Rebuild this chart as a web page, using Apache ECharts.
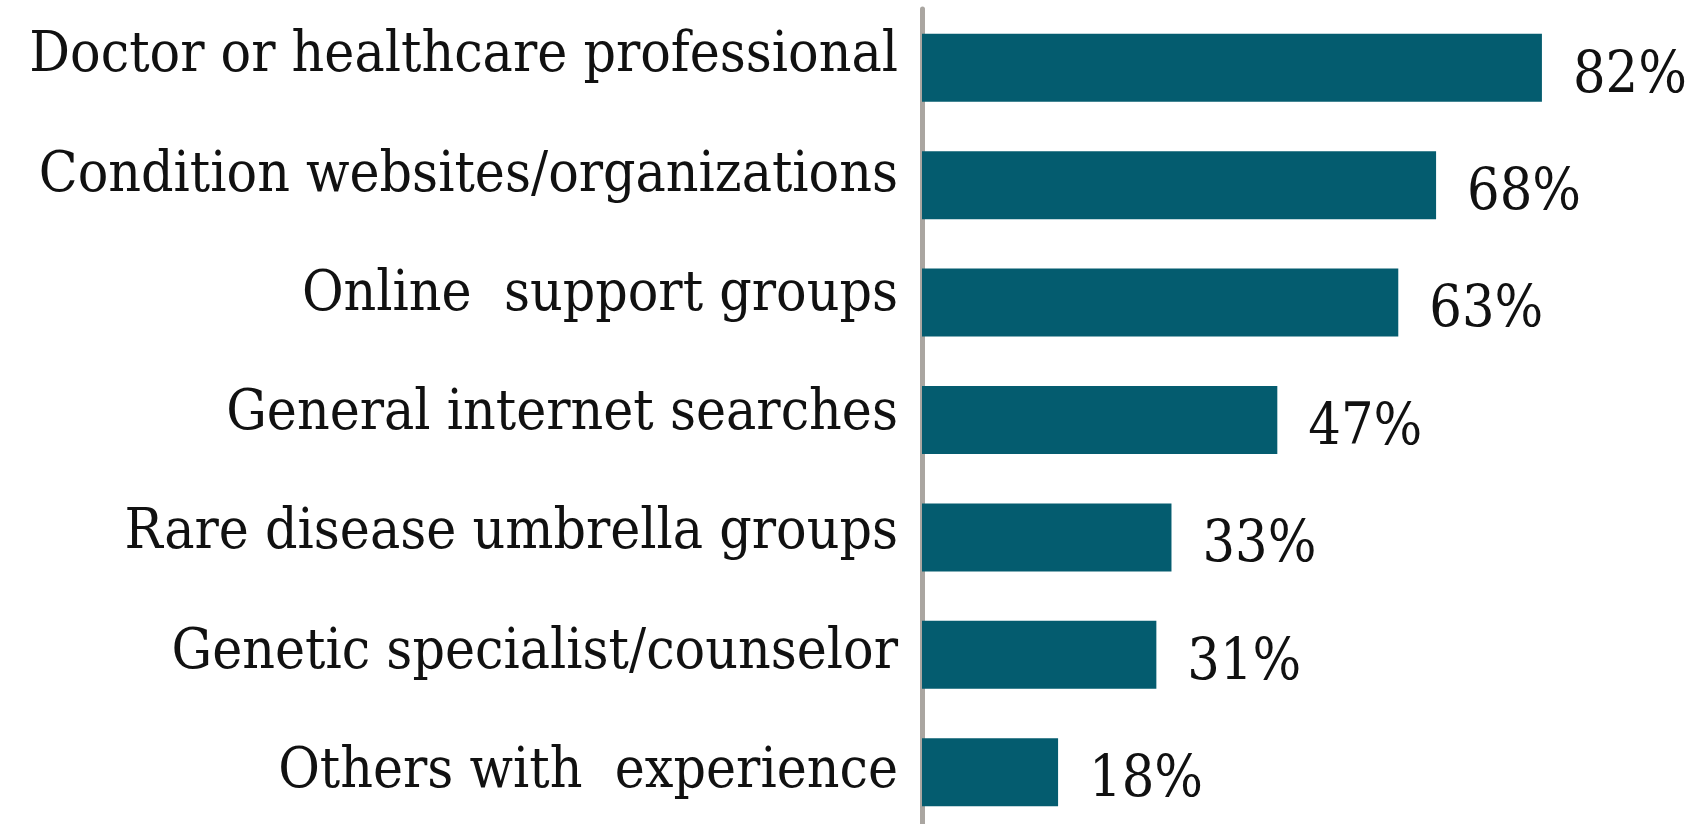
<!DOCTYPE html>
<html>
<head>
<meta charset="utf-8">
<script src="https://cdn.jsdelivr.net/npm/echarts@6/dist/echarts.min.js"></script>
<style>
  html, body { margin: 0; padding: 0; background: #fff; }
  #chart { width: 1701px; height: 824px; }
</style>
</head>
<body>
<div id="chart"></div>
<script>
// sources of information, top to bottom
var categories = [
  'Doctor or healthcare professional',
  'Condition websites/organizations',
  'Online  support groups',
  'General internet searches',
  'Rare disease umbrella groups',
  'Genetic specialist/counselor',
  'Others with  experience'
];
var values = [82, 68, 63, 47, 33, 31, 18];

var chartDom = document.getElementById('chart');
var myChart = echarts.init(chartDom);

var textFont = '"DejaVu Serif Condensed", "Liberation Serif", serif';

var option = {
  animation: false,
  grid: [
    // bars
    { left: 922, top: 9, width: 756, height: 822, outerBoundsMode: 'none' },
    // category labels sit on a slightly wider spacing than the bars
    { left: 919, top: -3, width: 756, height: 835, outerBoundsMode: 'none' }
  ],
  xAxis: [
    { gridIndex: 0, type: 'value', min: 0, max: 100, show: false },
    { gridIndex: 1, type: 'value', min: 0, max: 100, show: false }
  ],
  yAxis: [
    {
      gridIndex: 0,
      type: 'category',
      inverse: true,
      offset: 3,
      data: categories,
      axisLine: { show: true, lineStyle: { color: '#aaa6a1', width: 5 } },
      axisTick: { show: false },
      axisLabel: { show: false }
    },
    {
      gridIndex: 1,
      type: 'category',
      inverse: true,
      data: categories,
      axisLine: { show: false },
      axisTick: { show: false },
      axisLabel: {
        margin: 21,
        fontFamily: textFont,
        fontSize: 56.5,
        color: '#111'
      }
    }
  ],
  series: [
    {
      type: 'bar',
      xAxisIndex: 0,
      yAxisIndex: 0,
      data: values,
      barWidth: 68,
      itemStyle: { color: '#045c6f' },
      label: {
        show: true,
        position: 'right',
        distance: 31,
        formatter: '{c}%',
        fontFamily: textFont,
        fontSize: 57,
        color: '#111',
        padding: [24, 0, 0, 0],
        offset: [0, 9]
      }
    }
  ]
};

option && myChart.setOption(option);
</script>
</body>
</html>
